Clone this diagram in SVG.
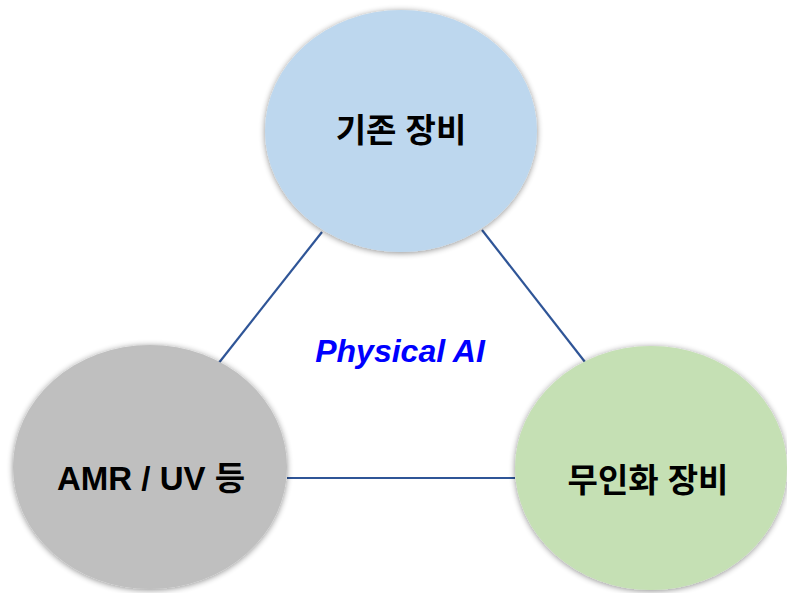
<svg xmlns="http://www.w3.org/2000/svg" width="787" height="593" viewBox="0 0 787 593">
  <defs>
    <filter id="sh" x="-20%" y="-20%" width="140%" height="140%">
      <feGaussianBlur in="SourceAlpha" stdDeviation="3"/>
      <feOffset dx="0" dy="1"/>
      <feComponentTransfer><feFuncA type="linear" slope="0.45"/></feComponentTransfer>
      <feMerge><feMergeNode/><feMergeNode in="SourceGraphic"/></feMerge>
    </filter>
  </defs>
  <style>
    .node { stroke: none; filter: url(#sh); }
    .lbl { font-family: "Liberation Sans", "Noto Sans CJK KR", sans-serif; font-weight: bold; font-size: 33px; fill: #000; text-anchor: middle; }
    .conn { stroke: #2F5597; stroke-width: 2.2; fill: none; }
  </style>
  <rect width="787" height="593" fill="#ffffff"/>
  <g id="connectors">
    <line class="conn" x1="322" y1="232" x2="218" y2="364"/>
    <line class="conn" x1="482" y1="230" x2="585" y2="362"/>
    <line class="conn" x1="287" y1="478" x2="515" y2="478"/>
  </g>
  <g id="node-existing">
    <ellipse class="node" cx="401" cy="131" rx="136" ry="121" fill="#BDD7EE"/>
    <text class="lbl" x="401" y="142">기존 장비</text>
  </g>
  <g id="node-amr">
    <ellipse class="node" cx="150" cy="467" rx="137" ry="122" fill="#BFBFBF"/>
    <text class="lbl" x="151" y="490">AMR / UV 등</text>
  </g>
  <g id="node-unmanned">
    <ellipse class="node" cx="651" cy="468" rx="136" ry="122" fill="#C5E0B4"/>
    <text class="lbl" x="648" y="492">무인화 장비</text>
  </g>
  <g id="center-label">
    <text x="400" y="362" font-family="'Liberation Sans', 'Noto Sans', sans-serif" font-weight="bold" font-style="italic" font-size="32" fill="#0000FF" text-anchor="middle">Physical AI</text>
  </g>
</svg>
